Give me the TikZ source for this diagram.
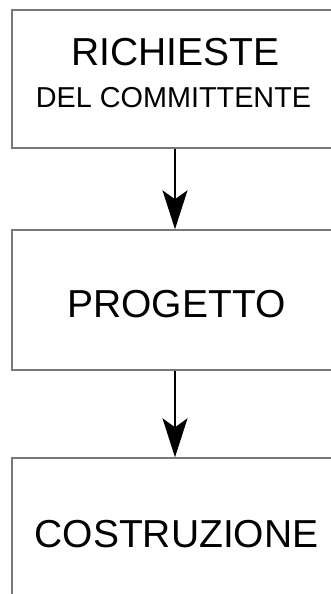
\documentclass[tikz,border=0pt]{standalone}
\usepackage{fontspec}
\setmainfont{Liberation Sans}
\usetikzlibrary{arrows.meta}
\definecolor{boxgray}{RGB}{120,120,120}
\tikzset{
  box/.style={draw=boxgray, line width=1.4pt, rectangle, inner sep=0pt, minimum width=326pt},
  bigtxt/.style={anchor=base, inner sep=0pt, font=\fontsize{39}{46}\selectfont},
  smalltxt/.style={anchor=base, inner sep=0pt, font=\fontsize{28.8}{34}\selectfont},
  flow/.style={draw=black, line width=1.6pt, -{Stealth[length=39pt, width=25pt, inset=9pt]}}
}
\begin{document}
\begin{tikzpicture}[x=1pt, y=-1pt]
\useasboundingbox (0,0) rectangle (331,594);
\clip (0,0) rectangle (331,594);
\node[box, minimum height=138pt] (b1) at (175,79) {};
\node[box, minimum height=140pt] (b2) at (175,300) {};
\node[box, minimum height=140pt] (b3) at (175,528) {};
\node[bigtxt] (t1) at (175.5,66) {RICHIESTE};
\node[smalltxt] (t2) at (173.5,107) {DEL COMMITTENTE};
\node[bigtxt] (t3) at (176.5,317) {PROGETTO};
\node[bigtxt] (t4) at (176.5,547) {COSTRUZIONE};
\draw[flow] (b1.south) -- (b2.north);
\draw[flow] (b2.south) -- (b3.north);
\end{tikzpicture}
\end{document}
